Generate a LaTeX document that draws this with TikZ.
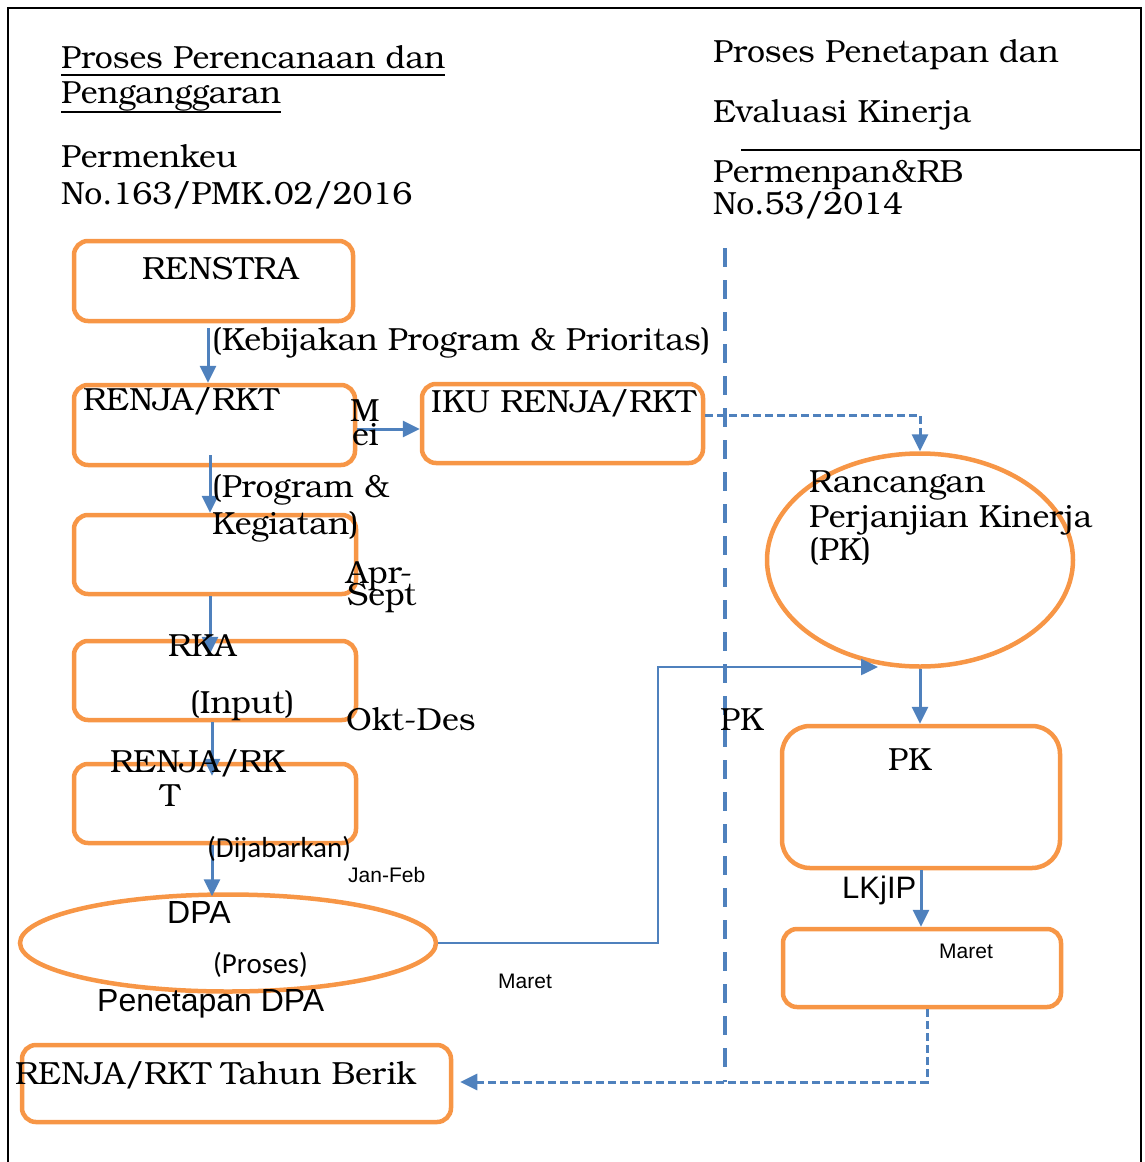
\documentclass[tikz,border=0pt]{standalone}
\usepackage{fontspec}
\setmainfont{TeX Gyre Bonum}
\newfontfamily\lsans{Liberation Sans}
\newfontfamily\carl{Carlito}
\usetikzlibrary{arrows.meta,shapes.geometric,calc}
\definecolor{orng}{HTML}{F79646}
\definecolor{blu}{HTML}{4F81BD}
\tikzset{
  obox/.style={draw=orng, line width=4.5pt, rounded corners=14pt, inner sep=0pt},
  oell/.style={draw=orng, line width=4.5pt, ellipse, inner sep=0pt},
  arr/.style={draw=blu, line width=3pt, -{Triangle[width=16pt,length=17pt]}},
  arrthin/.style={draw=blu, line width=2.5pt, -{Triangle[width=16pt,length=17pt]}},
  darr/.style={draw=blu, line width=3pt, dash pattern=on 8pt off 4pt, -{Triangle[width=16pt,length=17pt]}},
  txt/.style={anchor=base west, inner sep=0pt, font=\fontsize{32}{36}\selectfont},
  stxt/.style={anchor=base west, inner sep=0pt, font=\lsans\fontsize{32}{36}\selectfont},
  smtxt/.style={anchor=base west, inner sep=0pt, font=\lsans\fontsize{21}{24}\selectfont},
  ctxt/.style={anchor=base west, inner sep=0pt, font=\carl\fontsize{29}{32}\selectfont},
}
\begin{document}
\begin{tikzpicture}[x=1pt,y=-1pt]
\useasboundingbox (0,0) rectangle (1144,1162);
% frame
\draw[line width=2pt] (8,1162) -- (8,8) -- (1141,8) -- (1141,1162);
\draw[line width=2pt] (741,150) -- (1141,150);

% boxes
\node[obox, minimum width=279pt, minimum height=80pt] (renstra) at (213.5,281) {};
\node[obox, minimum width=281pt, minimum height=80pt] (renja) at (214.5,425) {};
\node[obox, minimum width=281pt, minimum height=79pt] (iku) at (562.5,423.5) {};
\node[obox, minimum width=282pt, minimum height=79pt] (keg) at (215,554.5) {};
\node[obox, minimum width=282pt, minimum height=79pt] (rka) at (215,680.5) {};
\node[obox, minimum width=282pt, minimum height=79pt] (renja2) at (215,803.5) {};
\node[oell, minimum width=416pt, minimum height=97pt] (dpa) at (228,943) {};
\node[obox, minimum width=429pt, minimum height=77pt] (berik) at (236.5,1083.5) {};
\node[oell, minimum width=306pt, minimum height=213pt] (rpk) at (920,560) {};
\node[obox, minimum width=278pt, minimum height=142pt, rounded corners=28pt] (pk) at (921,797) {};
\node[obox, minimum width=278pt, minimum height=78pt] (maret) at (922,968) {};

% dashed divider
\coordinate (vtop) at (725,248);
\coordinate (vbot) at (725,1082);
\draw[blu, line width=4.5pt, dash pattern=on 19pt off 13pt] (vtop) -- (vbot);

% connectors
\draw[arr] ([xshift=-5.5pt,yshift=-5pt]renstra.south) -- ([xshift=-6.5pt]renja.north);
\draw[arr] ([yshift=-4pt]renja.east) -- ([yshift=-5.5pt]iku.west);
\draw[arr] ([xshift=-4.5pt,yshift=12pt]renja.south) -- ([xshift=-5pt]keg.north);
\draw[arr] ([xshift=-5pt]keg.south) -- ([xshift=-5pt,yshift=-15pt]rka.north);
\draw[arr] ([xshift=-3pt]rka.south) -- ([xshift=-3pt,yshift=-14pt]renja2.north);
\draw[arr] ([xshift=-3pt]renja2.south) -- ([xshift=-16pt,yshift=-4pt]dpa.north);
\coordinate (bend) at (658,667);
\coordinate (t7) at (878,667);
\draw[arrthin] (dpa.east) -| (bend) -- (t7);
\draw[darr] ([yshift=8.5pt]iku.east) -| (rpk.north);
\draw[arr] (rpk.south) -- (rpk.south |- pk.north);
\draw[arr] (pk.south) -- (pk.south |- maret.north);
\draw[darr] ([xshift=5pt]maret.south) |- ([xshift=7pt,yshift=1.5pt]berik.east);

% texts
\node[txt] (ti1) at (61,68) {Proses Perencanaan dan};
\node[txt] (ti2) at (61,103) {Penganggaran};
\draw[line width=2.5pt] ([yshift=-7pt]ti1.base west) -- ([yshift=-7pt]ti1.base east);
\draw[line width=2.5pt] ([yshift=-9pt]ti2.base west) -- ([yshift=-9pt]ti2.base east);
\node[txt] (pm1) at (61,167) {Permenkeu};
\node[txt] (pm2) at (61,204) {No.163/PMK.02/2016};
\node[txt] (rt1) at (713,62) {Proses Penetapan dan};
\node[txt] (rt2) at (713,122) {Evaluasi Kinerja};
\node[txt] (rp1) at (713,182) {Permenpan\&RB};
\node[txt] (rp2) at (713,214) {No.53/2014};

\node[txt] (lrenstra) at (142,279) {RENSTRA};
\node[txt] (lkeb) at (212,350) {(Kebijakan Program \& Prioritas)};
\node[txt] (lrenja) at (83,410) {RENJA/RKT};
\node[txt] (lm) at (350,421) {M};
\node[txt] (lei) at (352,445) {ei};
\node[txt] (liku) at (431,412) {IKU RENJA/RKT};
\node[txt] (lprog) at (212,497) {(Program \&};
\node[txt] (lkeg) at (212,534) {Kegiatan)};
\node[txt] (lapr) at (346,583) {Apr-};
\node[txt] (lsept) at (347,605) {Sept};
\node[txt] (lrka) at (168,656) {RKA};
\node[txt] (linput) at (190,713) {(Input)};
\node[txt] (lokt) at (346,730) {Okt-Des};
\node[txt] (lrenja2) at (110,772) {RENJA/RK};
\node[txt] (lt) at (160,806) {T};
\node[ctxt] (ldij) at (207,857) {(Dijabarkan)};
\node[smtxt] (ljan) at (348,882) {Jan-Feb};
\node[stxt] (ldpa) at (167,923) {DPA};
\node[ctxt] (lproses) at (213,973) {(Proses)};
\node[stxt] (lpen) at (97,1011) {Penetapan DPA};
\node[smtxt] (lmaret1) at (498,988) {Maret};
\node[txt] (lberik) at (15,1084) {RENJA/RKT Tahun Berik};
\node[txt] (lpk1) at (720,730) {PK};
\node[txt] (lran) at (809,492) {Rancangan};
\node[txt] (lper) at (809,527) {Perjanjian Kinerja};
\node[txt] (lpkp) at (809,560) {(PK)};
\node[txt] (lpk2) at (888,770) {PK};
\node[stxt, font=\lsans\fontsize{31}{34}\selectfont] (llkj) at (842,898) {LKjIP};
\node[smtxt] (lmaret2) at (939,958) {Maret};
\end{tikzpicture}
\end{document}
